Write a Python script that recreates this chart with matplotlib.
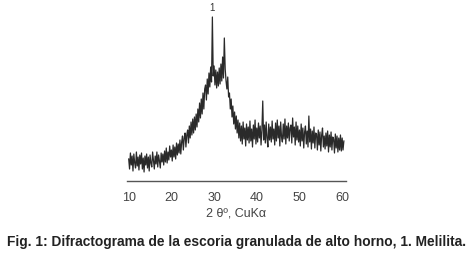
import numpy as np
import matplotlib.pyplot as plt

plt.rcParams['font.family'] = ['Liberation Sans', 'DejaVu Sans']

# 2theta grid: 10 to 60.4 deg in 0.2 deg steps
theta_start = 10.0
theta_step = 0.2

# intensity (arbitrary units)
intensity = [
    22, 12, 28, 16, 25, 10, 27, 18, 13, 29,
    15, 24, 11, 26, 17, 28, 12, 23, 9, 25,
    16, 27, 13, 24, 10, 26, 18, 14, 29, 20,
    12, 25, 17, 29, 14, 26, 20, 13, 28, 19,
    27, 16, 30, 19, 33, 18, 29, 21, 35, 24,
    31, 20, 36, 24, 34, 22, 38, 26, 37, 28,
    41, 27, 39, 45, 31, 43, 48, 34, 46, 51,
    38, 55, 43, 59, 46, 62, 48, 64, 51, 67,
    54, 72, 59, 78, 63, 82, 67, 88, 72, 92,
    96, 81, 102, 87, 108, 94, 114, 99, 164, 105,
    115, 96, 111, 93, 109, 95, 113, 97, 117, 100,
    124, 103, 143, 112, 100, 92, 104, 84, 88, 72,
    82, 64, 75, 57, 69, 52, 65, 48, 61, 43,
    58, 40, 55, 37, 59, 42, 53, 35, 57, 41,
    54, 38, 60, 40, 52, 34, 56, 42, 61, 37,
    53, 39, 58, 43, 55, 36, 51, 80, 41, 56,
    38, 59, 43, 34, 57, 41, 54, 39, 60, 42,
    52, 36, 58, 40, 61, 43, 55, 35, 59, 44,
    39, 57, 42, 62, 37, 55, 43, 58, 40, 53,
    56, 38, 63, 44, 54, 36, 59, 41, 55, 39,
    51, 35, 57, 40, 53, 33, 49, 55, 37, 50,
    34, 65, 39, 52, 32, 50, 38, 54, 33, 48,
    47, 31, 51, 36, 49, 30, 46, 53, 34, 45,
    32, 48, 35, 50, 29, 46, 34, 49, 31, 44,
    42, 28, 47, 33, 45, 29, 43, 31, 46, 30,
    43, 31, 40,
]
two_theta = theta_start + theta_step * np.arange(len(intensity))

ticks = [10, 20, 30, 40, 50, 60]
peak_label = "1"
peak_pos = 29.6

fig = plt.figure(figsize=(4.71, 2.55), dpi=100)
ax = fig.add_axes([127 / 471, 73 / 255, 219 / 471, 165 / 255])

ax.plot(two_theta, intensity, color="#2a2a2a", lw=0.9)
ax.text(peak_pos, 174, peak_label, ha="center", va="center", fontsize=7,
        color="#333333", clip_on=False)

ax.set_xlim(9.6, 60.9)
ax.set_ylim(0, 165)
ax.set_xticks(ticks)
ax.tick_params(axis="x", length=0, pad=7, labelsize=9, labelcolor="#444444")
ax.set_yticks([])
for s in ["left", "right", "top"]:
    ax.spines[s].set_visible(False)
ax.spines["bottom"].set_color("#555555")
ax.spines["bottom"].set_linewidth(1.0)
ax.set_xlabel("2 θº, CuKα", fontsize=9, color="#444444", labelpad=3)

fig.text(0.015, 0.025, "Fig. 1: Difractograma de la escoria granulada de alto horno, 1. Melilita.",
         fontsize=9.9, fontweight="bold", color="#222222", ha="left", va="bottom")

fig.savefig("out.png", dpi=100)
